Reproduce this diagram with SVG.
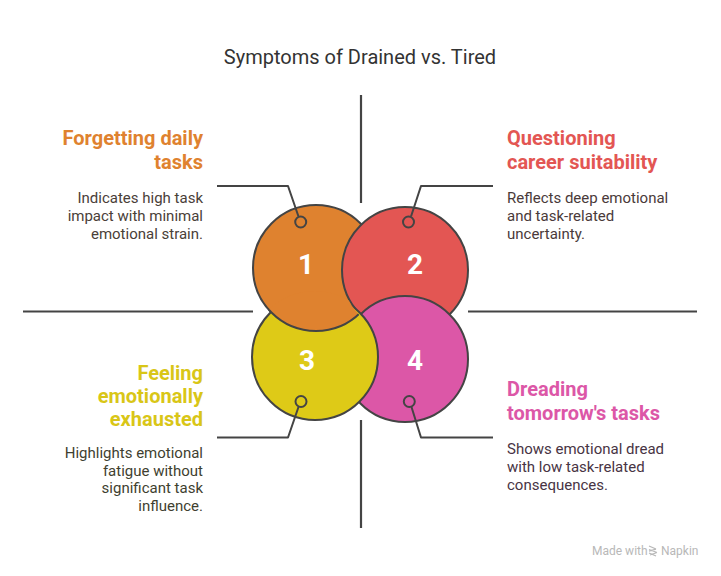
<svg xmlns="http://www.w3.org/2000/svg" width="721" height="576" viewBox="0 0 721 576">
  <style>
    .title { font-family: Roboto, "Liberation Sans", sans-serif; font-size: 20px; fill: #333333; }
    .head { font-family: Roboto, "Liberation Sans", sans-serif; font-size: 20px; font-weight: 700; }
    .desc { font-family: Roboto, "Liberation Sans", sans-serif; font-size: 15px; }
    .num { font-family: Roboto, "Liberation Sans", sans-serif; font-size: 28px; font-weight: 700; fill: #ffffff; text-anchor: middle; }
    .circ { stroke: #444444; stroke-width: 2; }
    .dot { fill: none; stroke: #444444; stroke-width: 2; }
    .axis { stroke: #444444; stroke-width: 2.2; fill: none; }
    .lead { stroke: #444444; stroke-width: 2; fill: none; stroke-linejoin: round; }
    .wm { font-family: Roboto, "Liberation Sans", sans-serif; font-size: 12px; fill: #b8b8b8; }
  </style>
  <defs>
    <clipPath id="clipYellow"><circle cx="315" cy="357" r="66"/></clipPath>
    <mask id="maskLeft" maskUnits="userSpaceOnUse" x="0" y="0" width="721" height="576">
      <rect x="230" y="280" width="129.5" height="70" fill="#ffffff"/>
      <circle cx="405" cy="270" r="64" fill="#000000"/>
    </mask>
  </defs>
  <rect width="721" height="576" fill="#ffffff"/>
  <text class="title" x="360" y="64" text-anchor="middle">Symptoms of Drained vs. Tired</text>

  <g id="axes">
    <line class="axis" x1="361" y1="95" x2="361" y2="203"/>
    <line class="axis" x1="361" y1="420" x2="361" y2="528"/>
    <line class="axis" x1="23" y1="311.5" x2="253" y2="311.5"/>
    <line class="axis" x1="468" y1="311.5" x2="697" y2="311.5"/>
  </g>

  <g id="circles">
    <circle id="circle-1" class="circ" cx="316" cy="268" r="63" fill="#DF822F"/>
    <circle id="circle-2" class="circ" cx="405" cy="270" r="63" fill="#E35653"/>
    <circle id="circle-4" class="circ" cx="405" cy="359" r="63" fill="#DC57A7"/>
    <circle id="circle-3" class="circ" cx="315" cy="357" r="63" fill="#DECA17"/>
    <g mask="url(#maskLeft)">
      <circle class="circ" cx="316" cy="268" r="63" fill="#DF822F" clip-path="url(#clipYellow)"/>
    </g>
  </g>

  <g id="connectors">
    <path class="lead" d="M217,186 H288 L298.5,216.5"/>
    <path class="lead" d="M493,186 H421 L411,216.5"/>
    <path class="lead" d="M217,437.5 H288 L298.5,407"/>
    <path class="lead" d="M493,437.5 H421 L411.5,407"/>
  </g>

  <g id="node-1">
    <circle class="dot" cx="300.7" cy="222" r="5.5"/>
    <text class="num" x="306" y="274">1</text>
    <text class="head" fill="#DF822F" text-anchor="end"><tspan x="203" y="145">Forgetting daily</tspan><tspan x="203" y="169">tasks</tspan></text>
    <text class="desc" fill="#4A4038" text-anchor="end"><tspan x="203" y="203">Indicates high task</tspan><tspan x="203" y="221">impact with minimal</tspan><tspan x="203" y="239">emotional strain.</tspan></text>
  </g>

  <g id="node-2">
    <circle class="dot" cx="408.5" cy="222" r="5.5"/>
    <text class="num" x="415" y="274">2</text>
    <text class="head" fill="#E35653"><tspan x="507" y="145">Questioning</tspan><tspan x="507" y="169">career suitability</tspan></text>
    <text class="desc" fill="#4A3A3A"><tspan x="507" y="203">Reflects deep emotional</tspan><tspan x="507" y="221">and task-related</tspan><tspan x="507" y="239">uncertainty.</tspan></text>
  </g>

  <g id="node-3">
    <circle class="dot" cx="301" cy="401.5" r="5.5"/>
    <text class="num" x="307" y="370">3</text>
    <text class="head" fill="#D9C617" text-anchor="end"><tspan x="203" y="380">Feeling</tspan><tspan x="203" y="403">emotionally</tspan><tspan x="203" y="426">exhausted</tspan></text>
    <text class="desc" fill="#3F3F30" text-anchor="end"><tspan x="203" y="457.5">Highlights emotional</tspan><tspan x="203" y="475.5">fatigue without</tspan><tspan x="203" y="493">significant task</tspan><tspan x="203" y="511">influence.</tspan></text>
  </g>

  <g id="node-4">
    <circle class="dot" cx="409.3" cy="401.5" r="5.5"/>
    <text class="num" x="415" y="370">4</text>
    <text class="head" fill="#DC57A7"><tspan x="507" y="396">Dreading</tspan><tspan x="507" y="420">tomorrow's tasks</tspan></text>
    <text class="desc" fill="#483444"><tspan x="507" y="454">Shows emotional dread</tspan><tspan x="507" y="472">with low task-related</tspan><tspan x="507" y="490">consequences.</tspan></text>
  </g>

  <g id="watermark">
    <text class="wm" x="592" y="555">Made with</text>
    <path d="M649,546 L656,549 M649,549.5 L657,552.5 M649,553 L656,556 M656,549 L649,551 M657,552.5 L650,555" stroke="#b8b8b8" stroke-width="1.3" fill="none"/>
    <text class="wm" x="661" y="555">Napkin</text>
  </g>
</svg>
